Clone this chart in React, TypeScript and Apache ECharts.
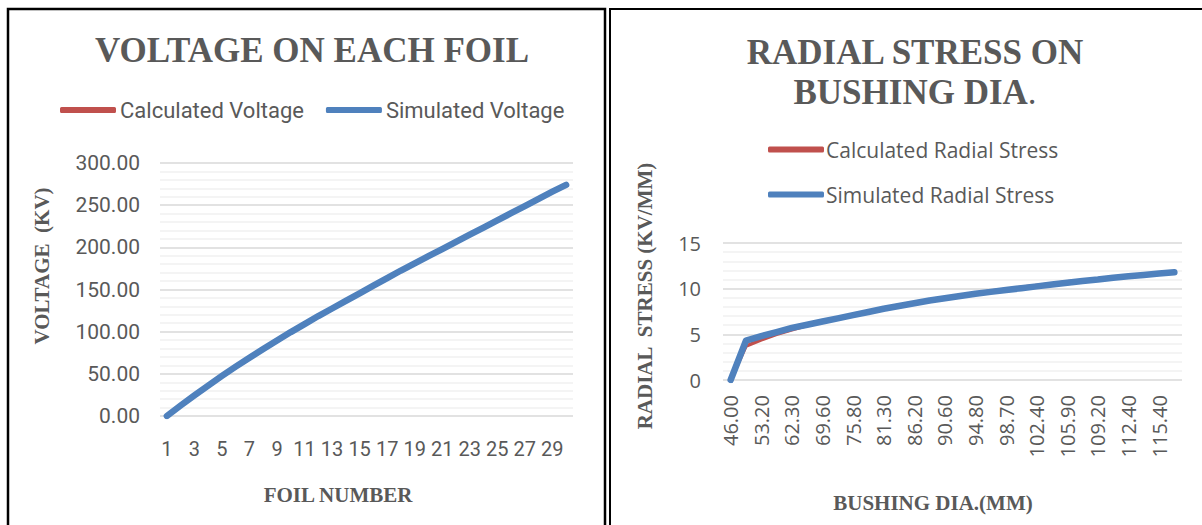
import React, { useEffect, useRef } from "react";
import * as echarts from "echarts";

const foils = ["1","2","3","4","5","6","7","8","9","10","11","12","13","14","15","16","17","18","19","20","21","22","23","24","25","26","27","28","29","30"];
const calculatedVoltage = [0,11.5,23.5,35,46.5,57.5,68,78.5,88.5,98.5,108,117.5,126.5,135.5,144.5,153.5,162.5,171.5,180,188.5,197,205.5,214,222.5,231.5,240,248.5,257,265.5,274];
const simulatedVoltage = [0,12.5,24.5,36,47.5,58.5,69,79.5,89.5,99.5,109,118.5,127.5,136.5,145.5,154.5,163.5,172.5,181,189.5,198,206.5,215,223.5,232,240.5,249,257.5,266,274];

const bushingDia = ["46.00","49.80","53.20","57.90","62.30","66.10","69.60","72.80","75.80","78.60","81.30","83.80","86.20","88.40","90.60","92.70","94.80","96.80","98.70","100.60","102.40","104.20","105.90","107.60","109.20","110.80","112.40","113.90","115.40","116.90"];
const calculatedStress = [0,3.7,4.4,5.0,5.5,5.95,6.4,6.8,7.15,7.5,7.85,8.15,8.45,8.75,9.0,9.25,9.5,9.75,9.95,10.15,10.35,10.55,10.75,10.9,11.1,11.25,11.4,11.55,11.7,11.8];
const simulatedStress = [0,4.3,4.8,5.25,5.7,6.05,6.4,6.75,7.1,7.45,7.8,8.1,8.4,8.7,8.95,9.2,9.45,9.65,9.85,10.05,10.25,10.45,10.65,10.85,11.0,11.2,11.35,11.5,11.65,11.8];

const RED = "#C0504D";
const BLUE = "#4F81BD";
const GREY = "#595959";
const SERIF = "'Liberation Serif', 'Times New Roman', serif";

export default function App() {
  const ref = useRef<HTMLDivElement>(null);
  useEffect(() => {
    if (!ref.current) return;
    const chart = echarts.init(ref.current, undefined, { renderer: "svg" });
    const splitLine = { show: true, lineStyle: { color: "#d9d9d9", width: 1.5 } };
    const minorSplitLine = { show: true, lineStyle: { color: "#f0f0f0", width: 1.5 } };
    chart.setOption({
      animation: false,
      backgroundColor: "#fff",
      title: [
        {
          text: "VOLTAGE ON EACH FOIL",
          left: 307, top: 28, textAlign: "center",
          textStyle: { fontFamily: SERIF, fontWeight: "bold", fontSize: 35, color: GREY },
        },
        {
          text: "{b|RADIAL STRESS ON}\n{b|BUSHING DIA}{n|.}",
          left: 910, top: 27, textAlign: "center",
          textStyle: {
            rich: {
              b: { fontFamily: SERIF, fontWeight: "bold", fontSize: 35, color: GREY, lineHeight: 40 },
              n: { fontFamily: SERIF, fontWeight: "normal", fontSize: 35, color: GREY, lineHeight: 40 },
            },
          },
        },
      ],
      legend: [
        {
          data: ["Calculated Voltage", "Simulated Voltage"],
          left: 55, top: 94, orient: "horizontal",
          icon: "roundRect", itemWidth: 56, itemHeight: 6, itemGap: 22,
          textStyle: { fontFamily: "Roboto", fontSize: 22, color: GREY, padding: [0, 0, 0, -1] },
        },
        {
          data: ["Calculated Radial Stress", "Simulated Radial Stress"],
          left: 763, top: 134, orient: "vertical",
          icon: "roundRect", itemWidth: 56, itemHeight: 6, itemGap: 24,
          textStyle: { fontFamily: "'Open Sans'", fontSize: 21, color: GREY, padding: [0, 0, 0, -3] },
        },
      ],
      grid: [
        { left: 160, top: 163, width: 413, height: 253 },
        { left: 723, top: 243, width: 459, height: 137 },
      ],
      xAxis: [
        {
          gridIndex: 0, type: "category", data: foils, boundaryGap: true,
          axisLine: { show: false }, axisTick: { show: false },
          axisLabel: { interval: 1, margin: 23, fontFamily: "Roboto", fontSize: 20, color: GREY },
        },
        {
          gridIndex: 1, type: "category", data: bushingDia, boundaryGap: true,
          axisLine: { show: false }, axisTick: { show: false },
          axisLabel: { interval: 1, rotate: 90, margin: 15, fontFamily: "'Open Sans'", fontSize: 20, color: GREY },
        },
      ],
      yAxis: [
        {
          gridIndex: 0, type: "value", min: 0, max: 300, interval: 50,
          axisLine: { show: false }, axisTick: { show: false },
          axisLabel: { margin: 20, fontFamily: "Roboto", fontSize: 21, color: GREY, formatter: (v: number) => v.toFixed(2) },
          splitLine, minorSplitLine, minorTick: { show: false, splitNumber: 5 },
        },
        {
          gridIndex: 1, type: "value", min: 0, max: 15, interval: 5,
          axisLine: { show: false }, axisTick: { show: false },
          axisLabel: { margin: 22, fontFamily: "'Open Sans'", fontSize: 20, color: GREY },
          splitLine, minorSplitLine, minorTick: { show: false, splitNumber: 5 },
        },
      ],
      series: [
        {
          name: "Calculated Voltage", type: "line", xAxisIndex: 0, yAxisIndex: 0,
          data: calculatedVoltage, showSymbol: false, color: RED,
          lineStyle: { color: RED, width: 3.5, cap: "round", join: "round" },
        },
        {
          name: "Simulated Voltage", type: "line", xAxisIndex: 0, yAxisIndex: 0,
          data: simulatedVoltage, showSymbol: false, color: BLUE,
          lineStyle: { color: BLUE, width: 6.5, cap: "round", join: "round" },
        },
        {
          name: "Calculated Radial Stress", type: "line", xAxisIndex: 1, yAxisIndex: 1,
          data: calculatedStress, showSymbol: false, color: RED,
          lineStyle: { color: RED, width: 3.5, cap: "round", join: "round" },
        },
        {
          name: "Simulated Radial Stress", type: "line", xAxisIndex: 1, yAxisIndex: 1,
          data: simulatedStress, showSymbol: false, color: BLUE,
          lineStyle: { color: BLUE, width: 6.5, cap: "round", join: "round" },
        },
      ],
      graphic: [
        { type: "rect", shape: { x: 8, y: 9, width: 597, height: 540 }, style: { fill: "none", stroke: "#000", lineWidth: 2.5 }, silent: true },
        { type: "rect", shape: { x: 610, y: 9, width: 620, height: 540 }, style: { fill: "none", stroke: "#000", lineWidth: 2 }, silent: true },
        { type: "text", x: 42, y: 266, rotation: Math.PI / 2, style: { text: "VOLTAGE  (KV)", fontFamily: SERIF, fontWeight: "bold", fontSize: 21, fill: GREY, align: "center", verticalAlign: "middle" } },
        { type: "text", x: 338, y: 495, style: { text: "FOIL NUMBER", fontFamily: SERIF, fontWeight: "bold", fontSize: 21, fill: GREY, align: "center", verticalAlign: "middle" } },
        { type: "text", x: 645, y: 296, rotation: Math.PI / 2, style: { text: "RADIAL  STRESS (KV/MM)", fontFamily: SERIF, fontWeight: "bold", fontSize: 21, fill: GREY, align: "center", verticalAlign: "middle" } },
        { type: "text", x: 933, y: 503, style: { text: "BUSHING DIA.(MM)", fontFamily: SERIF, fontWeight: "bold", fontSize: 21, fill: GREY, align: "center", verticalAlign: "middle" } },
      ],
    });
    return () => chart.dispose();
  }, []);
  return <div ref={ref} style={{ position: "fixed", left: 0, top: 0, width: 1202, height: 525 }} />;
}
